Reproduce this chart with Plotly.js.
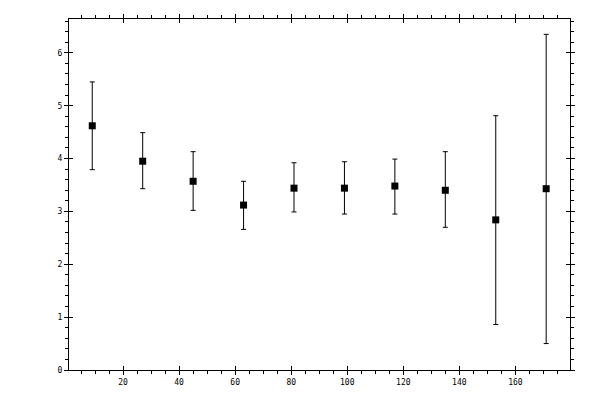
<!DOCTYPE html>
<html>
<head>
<meta charset="utf-8">
<script src="https://cdn.plot.ly/plotly-3.0.1.min.js"></script>
<style>html,body{margin:0;padding:0;background:#fff;}#chart{width:600px;height:400px;}</style>
</head>
<body>
<div id="chart"></div>
<script>
// Data
var xValues = [9, 27, 45, 63, 81, 99, 117, 135, 153, 171];
var yValues = [4.62, 3.95, 3.57, 3.12, 3.44, 3.44, 3.48, 3.40, 2.84, 3.43];
var yUpper  = [5.45, 4.49, 4.13, 3.57, 3.92, 3.94, 3.99, 4.13, 4.81, 6.35];
var yLower  = [3.79, 3.43, 3.02, 2.66, 2.99, 2.95, 2.95, 2.70, 0.86, 0.50];

var errPlus = yUpper.map(function(u, i){ return +(u - yValues[i]).toFixed(3); });
var errMinus = yLower.map(function(l, i){ return +(yValues[i] - l).toFixed(3); });

var tickFont = {family: 'DejaVu Sans Mono, monospace', size: 8, color: '#000'};

var traces = [
  {
    x: xValues, y: yValues, type: 'scatter', mode: 'markers',
    marker: {symbol: 'square', size: 7, color: '#000'},
    error_y: {type: 'data', symmetric: false, array: errPlus, arrayminus: errMinus,
              color: '#000', thickness: 1, width: 2.5},
    showlegend: false, hoverinfo: 'x+y'
  },
  { x: [], y: [], xaxis: 'x2', yaxis: 'y2', type: 'scatter', mode: 'markers', showlegend: false }
];

var xr = [0.7, 179.5], yr = [0, 6.64];

var layout = {
  width: 600, height: 400,
  margin: {l: 69, r: 30, t: 19, b: 30, pad: 0},
  paper_bgcolor: '#fff', plot_bgcolor: '#fff',
  showlegend: false,
  xaxis: {
    range: xr, tick0: 0, dtick: 20, ticks: 'outside', ticklen: 4, tickwidth: 1, tickcolor: '#000',
    minor: {dtick: 5, tick0: 0, ticks: 'outside', ticklen: 3, tickwidth: 1, tickcolor: '#000'},
    showline: true, linecolor: '#000', linewidth: 1, mirror: 'ticks',
    showgrid: false, zeroline: false, tickfont: tickFont
  },
  yaxis: {
    range: yr, tick0: 0, dtick: 1, ticks: 'outside', ticklen: 4, tickwidth: 1, tickcolor: '#000',
    minor: {dtick: 0.2, tick0: 0, ticks: 'outside', ticklen: 3, tickwidth: 1, tickcolor: '#000'},
    showline: true, linecolor: '#000', linewidth: 1, mirror: 'ticks',
    showgrid: false, zeroline: false, tickfont: tickFont
  },
  xaxis2: {
    overlaying: 'x', anchor: 'y2', range: xr, tick0: 0, dtick: 20, ticks: 'inside', ticklen: 4,
    tickwidth: 1, tickcolor: '#000', showticklabels: false, showline: false, mirror: 'ticks',
    showgrid: false, zeroline: false
  },
  yaxis2: {
    overlaying: 'y', anchor: 'x2', range: yr, tick0: 0, dtick: 1, ticks: 'inside', ticklen: 4,
    tickwidth: 1, tickcolor: '#000', showticklabels: false, showline: false, mirror: 'ticks',
    showgrid: false, zeroline: false
  }
};

Plotly.newPlot('chart', traces, layout, {staticPlot: true, displayModeBar: false});
</script>
</body>
</html>
